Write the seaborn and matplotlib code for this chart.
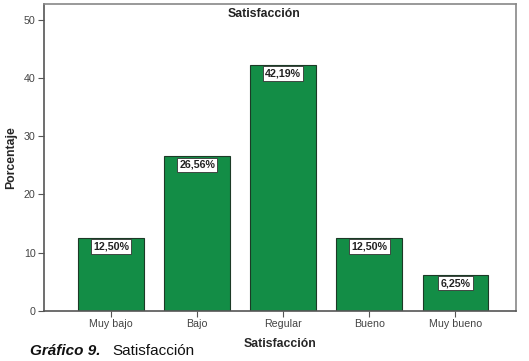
import numpy as np
import pandas as pd
import seaborn as sns
from matplotlib import pyplot as plt

categorias = ["Muy bajo", "Bajo", "Regular", "Bueno", "Muy bueno"]
porcentajes = [12.50, 26.56, 42.19, 12.50, 6.25]
etiquetas = ["12,50%", "26,56%", "42,19%", "12,50%", "6,25%"]
yticks = [0, 10, 20, 30, 40, 50]

sns.set_style("white")
plt.rcParams['font.family'] = ['Liberation Sans', 'DejaVu Sans']

df = pd.DataFrame({"Satisfacción": categorias, "Porcentaje": porcentajes})

fig = plt.figure(figsize=(5.29, 3.61), dpi=100)
ax = fig.add_axes([0.083, 0.1385, 0.892, 0.85])

sns.barplot(data=df, x="Satisfacción", y="Porcentaje", color="#138d46",
            saturation=1, width=0.765, edgecolor="#1c3a26", linewidth=0.8, ax=ax)

for i, (v, t) in enumerate(zip(porcentajes, etiquetas)):
    ax.annotate(t, (i, v), xytext=(0, -2.5), textcoords="offset points",
                ha="center", va="top", fontsize=7.7, fontweight="bold", color="#222222",
                bbox=dict(boxstyle="square,pad=0.2", fc="white", ec="#333333", lw=0.6))

ax.set_xlim(-0.78, 4.70)
ax.set_ylim(0, 52.65)
ax.set_yticks(yticks)
ax.set_xlabel("Satisfacción", fontsize=8.8, fontweight="bold", labelpad=6)
ax.set_ylabel("Porcentaje", fontsize=8.8, fontweight="bold", labelpad=5)
ax.tick_params(axis="both", which="both", direction="out", length=4, width=0.8,
               color="#555555", labelsize=7.7, labelcolor="#444444", pad=2)
ax.tick_params(axis="x", bottom=True)
ax.tick_params(axis="y", left=True)
for s in ax.spines.values():
    s.set_color("#888888")
    s.set_linewidth(1.2)
ax.spines["left"].set_color("#555555")
ax.spines["bottom"].set_color("#555555")

fig.text(0.5, 0.96, "Satisfacción", ha="center", va="center", fontsize=8.8, fontweight="bold", color="#222222")

# pie de figura
fig.text(30 / 529, 0.046, "Gráfico 9.", ha="left", va="top", fontsize=11,
         fontweight="bold", fontstyle="italic", color="#111111")
fig.text(112 / 529, 0.046, "Satisfacción", ha="left", va="top", fontsize=11, color="#111111")

plt.savefig("out.png", dpi=100)
